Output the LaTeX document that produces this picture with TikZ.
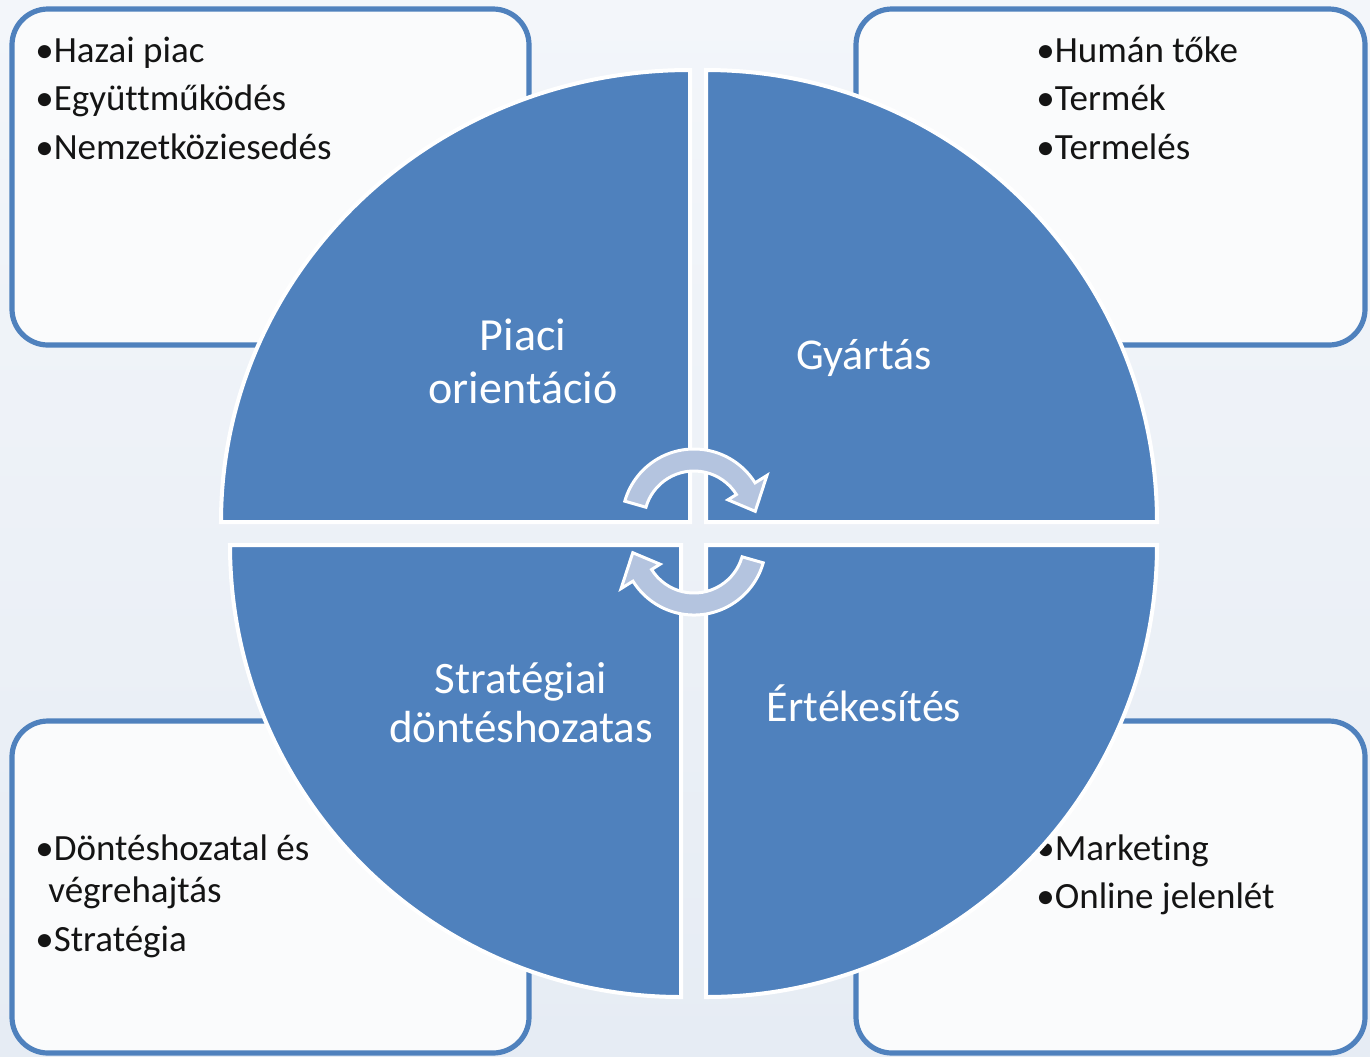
\documentclass[tikz,border=0pt]{standalone}
\usepackage{fontspec}
\setmainfont{Carlito}[Ligatures={NoCommon}]
\definecolor{qblue}{HTML}{4F81BD}
\definecolor{arrowfill}{HTML}{B4C4DF}
\definecolor{boxfill}{HTML}{FAFBFC}
\definecolor{bgtop}{HTML}{F3F6FA}
\definecolor{bgbot}{HTML}{E6ECF4}
\begin{document}
\begin{tikzpicture}[x=0.5pt,y=-0.5pt,
  infobox/.style={draw=qblue, line width=2.6pt, fill=boxfill, rounded corners=18pt},
  quad/.style={fill=qblue, draw=white, line width=2pt},
  qlabel/.style={text=white, align=center, inner sep=0pt},
  item/.style={anchor=base west, inner sep=0pt, font=\fontsize{18.5}{22}\selectfont, text=black!92},
  cyc/.style={fill=arrowfill, draw=white, line width=1.5pt, line join=miter}]

% background
\fill[top color=bgtop, bottom color=bgbot] (0,0) rectangle (1370,1056);
\useasboundingbox (0,0) rectangle (1370,1056);

% side boxes
\draw[infobox] (12,9) rectangle (529,345);
\draw[infobox] (856,9) rectangle (1365,345);
\draw[infobox] (12,721) rectangle (529,1053);
\draw[infobox] (856,721) rectangle (1365,1053);

% box texts
\node[item] (t1) at (35,62) {•Hazai piac};
\node[item] (t2) at (35,110) {•Együttműködés};
\node[item] (t3) at (35,159) {•Nemzetköziesedés};
\node[item] (r1) at (1036,62) {•Humán tőke};
\node[item] (r2) at (1036,110) {•Termék};
\node[item] (r3) at (1036,159) {•Termelés};
\node[item] (b1) at (35,860) {•Döntéshozatal és};
\node[item] (b2) at (48,902) {végrehajtás};
\node[item] (b3) at (35,951) {•Stratégia};
\node[item] (m1) at (1036,860) {•Marketing};
\node[item] (m2) at (1036,908) {•Online jelenlét};

% quadrants
\path[quad] (690,522) -- (221,522) arc[start angle=180, end angle=270, x radius=469, y radius=452] -- cycle;
\path[quad] (706,522) -- (706,70) arc[start angle=270, end angle=360, x radius=451, y radius=452] -- cycle;
\path[quad] (681,545) -- (230,545) arc[start angle=180, end angle=90, x radius=451, y radius=452] -- cycle;
\path[quad] (706,545) -- (1157,545) arc[start angle=0, end angle=90, x radius=451, y radius=452] -- cycle;

% quadrant labels
\node[qlabel, font=\fontsize{23}{26.5}\selectfont] (q1) at (523,361) {Piaci\\orientáció};
\node[qlabel, font=\fontsize{22}{26.5}\selectfont] (q2) at (864,358) {Gyártás};
\node[qlabel, font=\fontsize{22.5}{24.5}\selectfont] (q3) at (521,703) {Stratégiai\\döntéshozatas};
\node[qlabel, font=\fontsize{22}{26.5}\selectfont] (q4) at (864,703) {Értékesítés};

% cycle arrows
\begin{scope}[shift={(694,521)}]
\path[cyc] (-164:72) arc[start angle=-164, end angle=-32, radius=72] -- (-32:86) -- (-9:62) -- (-32:40) -- (-32:50) arc[start angle=-32, end angle=-164, radius=50] -- cycle;
\end{scope}
\begin{scope}[shift={(694,543)}]
\path[cyc] (16:72) arc[start angle=16, end angle=148, radius=72] -- (148:86) -- (171:62) -- (148:40) -- (148:50) arc[start angle=148, end angle=16, radius=50] -- cycle;
\end{scope}
\end{tikzpicture}
\end{document}
